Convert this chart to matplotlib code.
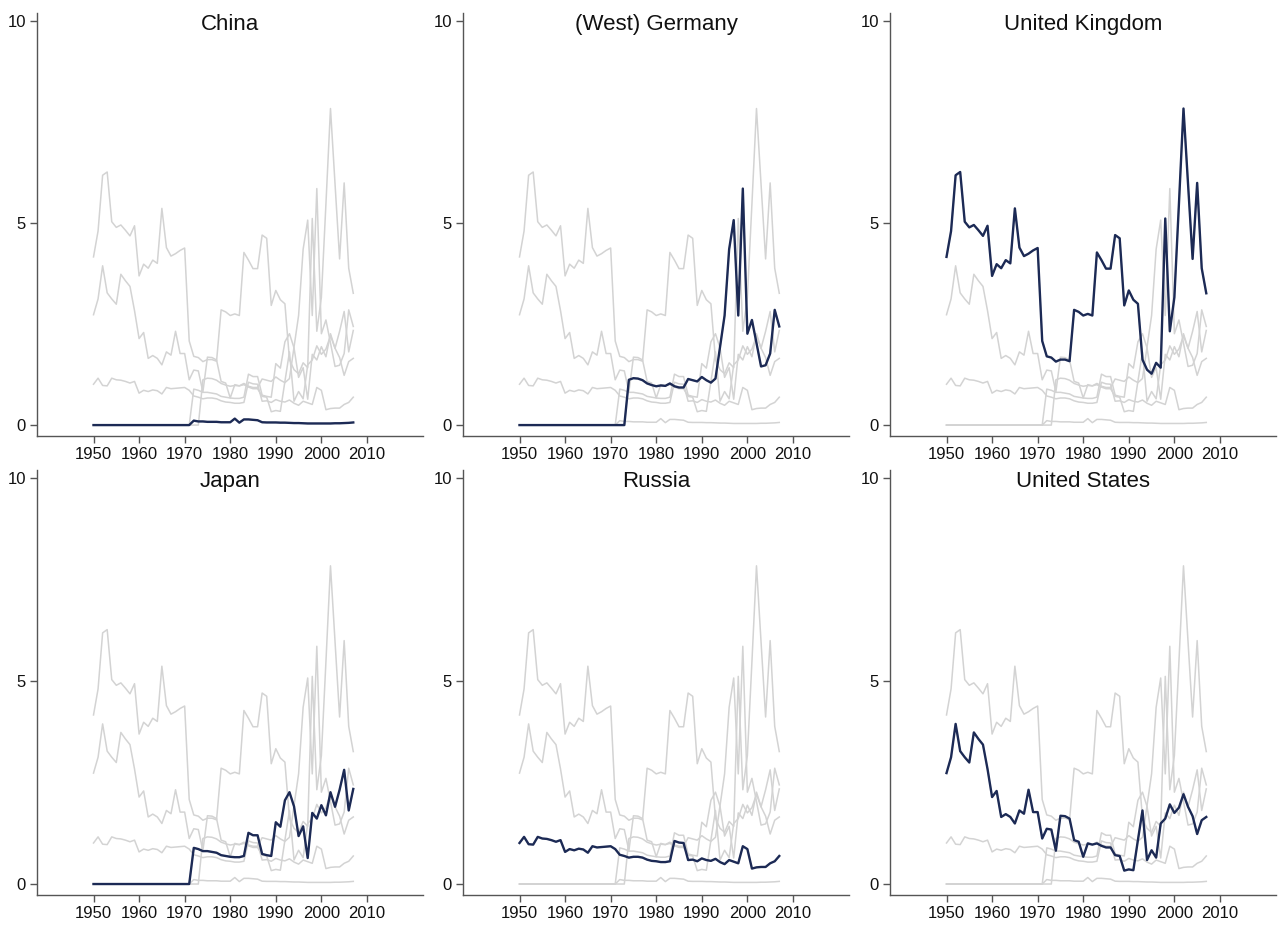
import numpy as np
import matplotlib
matplotlib.use("Agg")
import matplotlib.pyplot as plt

years = list(range(1950, 2008))

china = [0.0] * 22 + [
    0.11, 0.09, 0.09, 0.08, 0.08, 0.08, 0.07, 0.07,  # 1972-1979
    0.07, 0.16, 0.06, 0.14, 0.14, 0.13, 0.12, 0.07,  # 1980-1987
    0.065, 0.065, 0.065, 0.06, 0.06, 0.055, 0.05, 0.05,  # 1988-1995
    0.045, 0.04, 0.04, 0.04, 0.04, 0.04, 0.04, 0.045,  # 1996-2003
    0.045, 0.05, 0.055, 0.065,  # 2004-2007
]

germany = [0.0] * 24 + [
    1.12, 1.16, 1.15, 1.11, 1.03, 0.99,  # 1974-1979
    0.96, 0.98, 0.97, 1.03, 0.96, 0.93, 0.93, 1.14, 1.11, 1.08,  # 1980s
    1.19, 1.11, 1.05, 1.15, 1.93, 2.71, 4.35, 5.07, 2.71, 5.85,  # 1990s
    2.26, 2.60, 2.03, 1.45, 1.48, 1.77, 2.85, 2.44,  # 2000-2007
]

uk = [
    4.16, 4.80, 6.18, 6.26, 5.03, 4.89, 4.95, 4.82, 4.68, 4.93,  # 1950s
    3.69, 3.98, 3.88, 4.08, 4.00, 5.36, 4.39, 4.18, 4.24, 4.32,  # 1960s
    4.38, 2.08, 1.70, 1.67, 1.57, 1.62, 1.62, 1.58, 2.85, 2.80,  # 1970s
    2.71, 2.75, 2.71, 4.27, 4.08, 3.87, 3.87, 4.70, 4.62, 2.96,  # 1980s
    3.33, 3.10, 3.00, 1.62, 1.37, 1.27, 1.54, 1.42, 5.11, 2.32,  # 1990s
    3.16, 5.47, 7.83, 5.96, 4.11, 5.99, 3.88, 3.26,  # 2000-2007
]

japan = [0.0] * 22 + [
    0.89, 0.86, 0.81, 0.81, 0.79, 0.77, 0.71, 0.69,  # 1972-1979
    0.67, 0.66, 0.66, 0.69, 1.26, 1.20, 1.20, 0.74, 0.71, 0.69,  # 1980s
    1.52, 1.41, 2.06, 2.26, 1.91, 1.18, 1.42, 0.64, 1.75, 1.61,  # 1990s
    1.94, 1.69, 2.26, 1.90, 2.32, 2.81, 1.81, 2.34,  # 2000-2007
]

russia = [
    1.01, 1.16, 0.98, 0.97, 1.16, 1.12, 1.11, 1.08, 1.04, 1.08,  # 1950s
    0.79, 0.86, 0.83, 0.87, 0.85, 0.77, 0.93, 0.90, 0.91, 0.92,  # 1960s
    0.93, 0.86, 0.72, 0.69, 0.65, 0.67, 0.67, 0.65, 0.60, 0.57,  # 1970s
    0.56, 0.54, 0.54, 0.56, 1.06, 1.02, 1.01, 0.59, 0.60, 0.56,  # 1980s
    0.63, 0.59, 0.57, 0.62, 0.54, 0.49, 0.59, 0.55, 0.51, 0.93,  # 1990s
    0.86, 0.38, 0.41, 0.42, 0.42, 0.51, 0.56, 0.69,  # 2000-2007
]

usa = [
    2.73, 3.12, 3.94, 3.27, 3.12, 2.99, 3.73, 3.57, 3.43, 2.83,  # 1950s
    2.14, 2.29, 1.65, 1.72, 1.65, 1.49, 1.81, 1.73, 2.32, 1.77,  # 1960s
    1.77, 1.12, 1.36, 1.34, 0.82, 1.68, 1.67, 1.61, 1.08, 1.04,  # 1970s
    0.67, 1.00, 0.97, 1.00, 0.94, 0.90, 0.90, 0.71, 0.69, 0.33,  # 1980s
    0.36, 0.34, 1.08, 1.81, 0.59, 0.83, 0.65, 1.49, 1.61, 1.96,  # 1990s
    1.75, 1.88, 2.21, 1.90, 1.67, 1.23, 1.57, 1.65,  # 2000-2007
]

countries = ["China", "(West) Germany", "United Kingdom",
             "Japan", "Russia", "United States"]
series = [china, germany, uk, japan, russia, usa]

x_ticks = [1950, 1960, 1970, 1980, 1990, 2000, 2010]
y_ticks = [0, 5, 10]

HIGHLIGHT = "#1c2a55"
BACKGROUND = "#d3d3d3"
SPINE = "#555555"

plt.rcParams["font.family"] = ["Liberation Sans", "DejaVu Sans"]

W, H = 1278, 925
fig = plt.figure(figsize=(W / 100, H / 100), dpi=100)

col_left = [37, 463, 890]
ax_w = 386
rows = [(12.7, 436), (469.5, 895)]

for i, (name, vals) in enumerate(zip(countries, series)):
    r, c = divmod(i, 3)
    top, bottom = rows[r]
    ax = fig.add_axes([col_left[c] / W, 1 - bottom / H, ax_w / W, (bottom - top) / H])

    for other in series:
        ax.plot(years, other, color=BACKGROUND, lw=1.1, zorder=1)
    ax.plot(years, vals, color=HIGHLIGHT, lw=1.7, zorder=3)

    ax.set_xlim(1937.6, 2022.3)
    ax.set_ylim(-0.27, 10.2)
    ax.set_xticks(x_ticks)
    ax.set_yticks(y_ticks)
    ax.set_yticklabels([str(t) for t in y_ticks])
    for side in ("top", "right"):
        ax.spines[side].set_visible(False)
    for side in ("left", "bottom"):
        ax.spines[side].set_color(SPINE)
        ax.spines[side].set_linewidth(1.0)
    ax.tick_params(axis="both", direction="out", length=5, width=1.0,
                   color=SPINE, labelsize=12, pad=3, labelcolor="#111111")
    ax.text(0.5, 0.997, name, transform=ax.transAxes, ha="center", va="top",
            fontsize=16, color="#111111")

fig.savefig("out.png", dpi=100)
